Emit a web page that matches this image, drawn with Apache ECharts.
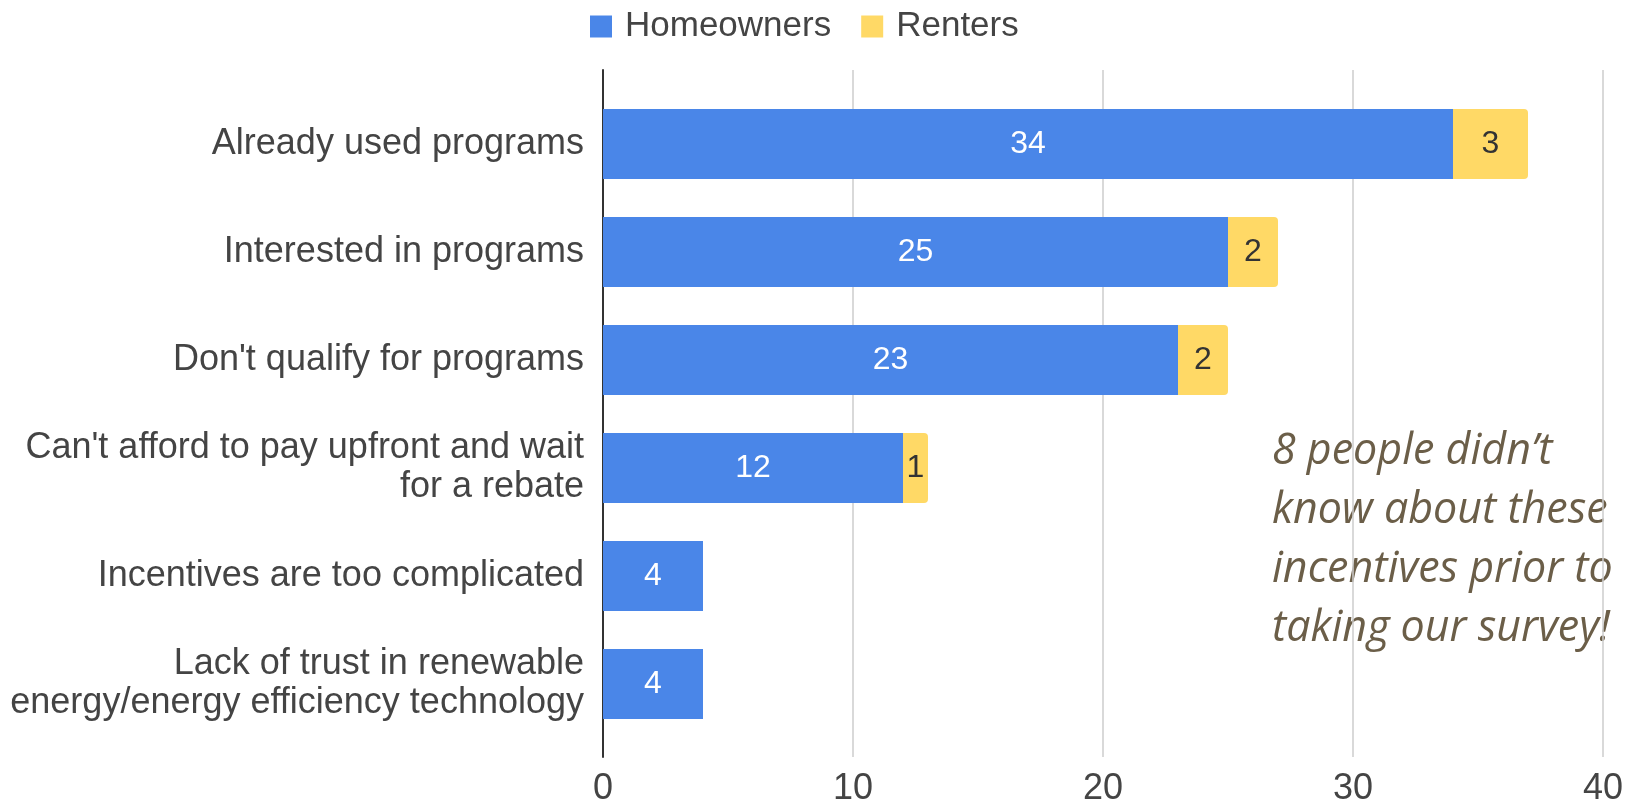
<!DOCTYPE html>
<html>
<head>
<meta charset="utf-8">
<script src="https://cdn.jsdelivr.net/npm/echarts@6/dist/echarts.min.js"></script>
<style>
  html, body { margin: 0; padding: 0; background: #fff; }
  #chart { width: 1632px; height: 807px; }
</style>
</head>
<body>
<div id="chart"></div>
<script>
// categories, top to bottom
const categories = [
  'Already used programs',
  'Interested in programs',
  "Don't qualify for programs",
  "Can't afford to pay upfront and wait\nfor a rebate",
  'Incentives are too complicated',
  'Lack of trust in renewable\nenergy/energy efficiency technology'
]
const homeowners = [34, 25, 23, 12, 4, 4]
const renters = [3, 2, 2, 1, null, null]
const xTicks = { min: 0, max: 40, interval: 10 }
const note = "8 people didn’t\nknow about these\nincentives prior to\ntaking our survey!"

const font = '"Liberation Sans", Arial, sans-serif'
const chart = echarts.init(document.getElementById('chart'))

chart.setOption({
  animation: false,
  textStyle: { fontFamily: font },
  legend: {
    left: 585, top: 4,
    itemWidth: 22, itemHeight: 22, itemGap: 30,
    icon: 'rect',
    textStyle: { fontSize: 35, color: '#444', fontFamily: font, padding: [0, 0, 0, 8] },
    data: ['Homeowners', 'Renters']
  },
  grid: [
    // gridlines + value axis
    { left: 603, right: 29, top: 70, bottom: 50 },
    // bars
    { left: 603, right: 29, top: 90, height: 648 }
  ],
  xAxis: [
    {
      gridIndex: 0, type: 'value', ...xTicks,
      axisLine: { show: false }, axisTick: { show: false },
      splitLine: { lineStyle: { color: '#cccccc', width: 1.5 } },
      axisLabel: { fontSize: 36, color: '#444', margin: 14, fontFamily: font }
    },
    {
      gridIndex: 1, type: 'value', ...xTicks, show: false
    }
  ],
  yAxis: [
    {
      gridIndex: 0, type: 'value',
      axisLine: { show: true, lineStyle: { color: '#333', width: 2 } },
      axisTick: { show: false }, axisLabel: { show: false }, splitLine: { show: false }
    },
    {
      gridIndex: 1, type: 'category', inverse: true, data: categories,
      axisLine: { show: false }, axisTick: { show: false },
      axisLabel: { fontSize: 36, color: '#444', lineHeight: 39, margin: 19, align: 'right', fontFamily: font }
    }
  ],
  series: [
    {
      name: 'Homeowners', type: 'bar', stack: 'total',
      xAxisIndex: 1, yAxisIndex: 1, barWidth: 70,
      data: homeowners,
      itemStyle: { color: '#4a86e8' },
      label: { show: true, position: 'inside', color: '#fff', fontSize: 32, fontFamily: font }
    },
    {
      name: 'Renters', type: 'bar', stack: 'total',
      xAxisIndex: 1, yAxisIndex: 1, barWidth: 70,
      data: renters,
      itemStyle: { color: '#ffd966', borderRadius: [0, 4, 4, 0] },
      label: { show: true, position: 'inside', color: '#333', fontSize: 32, fontFamily: font }
    }
  ],
  graphic: [{
    type: 'text', left: 1272, top: 422,
    style: {
      text: note,
      fontFamily: '"Open Sans", sans-serif', fontStyle: 'italic',
      fontSize: 43, lineHeight: 59, fill: '#6b5e48'
    }
  }]
})
</script>
</body>
</html>
